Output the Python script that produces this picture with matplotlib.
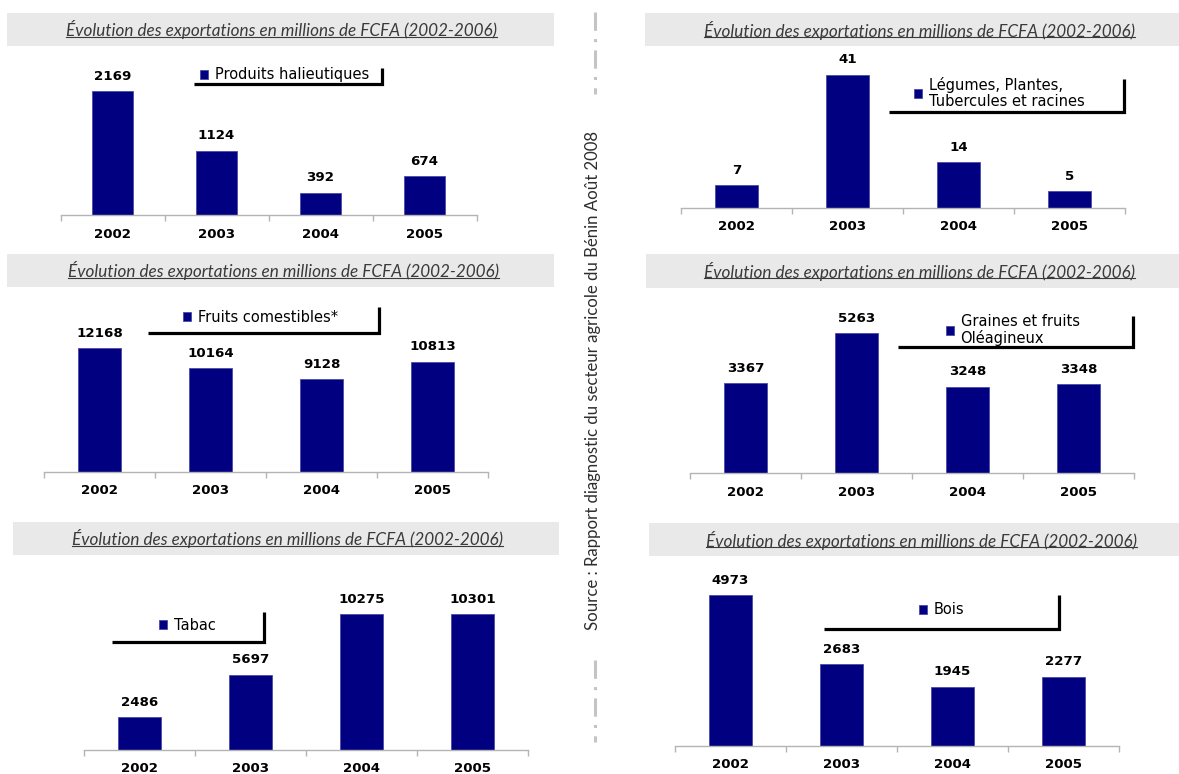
import matplotlib.pyplot as plt
from matplotlib.lines import Line2D
from matplotlib.patches import Rectangle

plt.rcParams['font.family'] = 'DejaVu Sans'

W, H = 1179, 774
NAVY = '#000080'

# Data (millions de FCFA)
years = ['2002', '2003', '2004', '2005']
halieutiques = [2169, 1124, 392, 674]
legumes = [7, 41, 14, 5]
fruits = [12168, 10164, 9128, 10813]
graines = [3367, 5263, 3248, 3348]
tabac = [2486, 5697, 10275, 10301]
bois = [4973, 2683, 1945, 2277]

series_labels = ['Produits halieutiques', 'Légumes, Plantes,\nTubercules et racines',
                 'Fruits comestibles*', 'Graines et fruits\nOléagineux',
                 'Tabac', 'Bois']
title = 'Évolution des exportations en millions de FCFA (2002-2006)'
source = 'Source : Rapport diagnostic du secteur agricole du Bénin Août 2008'


def fx(x):
    return x / W


def fy(y):
    return 1 - y / H


# layout in pixels:
# title bar (x0, x1, y0, y1), title centre x,
# axes (x0, x1, baseline, peak height px), legend anchor (x, y), shadow (x0, x1, ytop, ybot)
layout = [
    dict(data=halieutiques, bar=(7.5, 554, 12.5, 45.5), tcx=281,
         ax=(60.5, 476.5, 215, 124), leg=(200, 75), sh=(194, 382, 68, 84)),
    dict(data=legumes, bar=(645, 1179, 13, 46), tcx=919,
         ax=(681, 1125, 207.7, 133), leg=(914, 93), sh=(889, 1124, 79, 111.7)),
    dict(data=fruits, bar=(7.5, 554, 254, 287), tcx=283,
         ax=(44, 488, 472, 124), leg=(183, 317), sh=(148, 379, 306.7, 332.7)),
    dict(data=graines, bar=(646, 1179, 254, 288), tcx=919,
         ax=(690, 1134, 473, 140), leg=(946, 330), sh=(898, 1133, 316, 347)),
    dict(data=tabac, bar=(13, 559, 522, 555), tcx=287,
         ax=(84, 528, 750, 136), leg=(159, 625), sh=(112, 264, 611.7, 642)),
    dict(data=bois, bar=(649, 1179, 523, 556), tcx=921,
         ax=(675, 1119, 745.7, 150.7), leg=(919, 610), sh=(824, 1059, 594.7, 629)),
]

fig = plt.figure(figsize=(W / 100, H / 100), dpi=100)
fig.patch.set_facecolor('white')

title_texts = []
for i, p in enumerate(layout):
    # grey title band
    bx0, bx1, by0, by1 = p['bar']
    fig.patches.append(Rectangle((fx(bx0), fy(by1)), fx(bx1) - fx(bx0), fy(by0) - fy(by1),
                                 transform=fig.transFigure, facecolor='#e9e9e9',
                                 edgecolor='none', zorder=0))
    t = fig.text(fx(p['tcx']), fy((by0 + by1) / 2 + 0.5), title, ha='center', va='center',
                 family=['Lato', 'DejaVu Sans'], style='italic', color='#3a3a3a', fontsize=11)
    title_texts.append(t)

    # bar chart
    ax0, ax1, base, peak = p['ax']
    top = base - peak - 30
    ax = fig.add_axes([fx(ax0), fy(base), fx(ax1) - fx(ax0), fy(top) - fy(base)])
    ax.patch.set_alpha(0)
    vals = p['data']
    bars = ax.bar(range(len(years)), vals, width=0.39, color=NAVY,
                  edgecolor='#4a4aa8', linewidth=0.6, label=series_labels[i])
    ax.bar_label(bars, labels=[str(v) for v in vals], padding=6,
                 fontsize=9.6, fontweight='bold', color='black')
    ax.set_xlim(-0.5, len(years) - 0.5)
    ax.set_ylim(0, max(vals) * (base - top) / peak)
    for s in ['top', 'left', 'right']:
        ax.spines[s].set_visible(False)
    ax.spines['bottom'].set_color('#b4b4b4')
    ax.spines['bottom'].set_linewidth(1.0)
    ax.set_yticks([])
    ax.set_xticks(range(len(years)))
    ax.set_xticklabels(years, fontsize=9.6, fontweight='bold')
    ax.set_xticks([k - 0.5 for k in range(len(years) + 1)], minor=True)
    ax.tick_params(axis='x', which='major', length=0, pad=9)
    ax.tick_params(axis='x', which='minor', length=4, color='#b4b4b4', width=1.0)

    # legend
    lx, ly = p['leg']
    leg = ax.legend(loc='center left', bbox_to_anchor=(fx(lx), fy(ly)),
                    bbox_transform=fig.transFigure, frameon=False, fontsize=10.5,
                    borderpad=0, borderaxespad=0, handlelength=0.55, handleheight=0.55,
                    handletextpad=0.45)
    for txt in leg.get_texts():
        txt.set_linespacing(1.05)
    sx0, sx1, syt, syb = p['sh']
    fig.lines.append(Line2D([fx(sx0), fx(sx1), fx(sx1)], [fy(syb), fy(syb), fy(syt)],
                            transform=fig.transFigure, color='black', linewidth=2.3,
                            solid_joinstyle='miter', solid_capstyle='butt'))

# vertical source note and dashed separator
src = fig.text(fx(593), fy(380), source, rotation=90, ha='center', va='center',
               family=['Lato', 'DejaVu Sans'], color='#2e2e2e', fontsize=10)
for (ya, yb) in [(12, 94), (660, 742)]:
    fig.lines.append(Line2D([fx(595), fx(595)], [fy(ya), fy(yb)], transform=fig.transFigure,
                            color='#c4c4c4', linewidth=2.2, dashes=(6, 2.7, 1, 2.7)))

# fit text widths to the reference and underline titles
fig.canvas.draw()
r = fig.canvas.get_renderer()
for t in title_texts:
    bb = t.get_window_extent(r)
    t.set_fontsize(t.get_fontsize() * 430 / bb.width)
bb = src.get_window_extent(r)
src.set_fontsize(src.get_fontsize() * 498 / bb.height)
fig.canvas.draw()
for t in title_texts:
    bb = t.get_window_extent(r)
    y = bb.y0 + 2.5
    fig.lines.append(Line2D([bb.x0 / W, bb.x1 / W], [y / H, y / H], transform=fig.transFigure,
                            color='#3a3a3a', linewidth=0.8))

fig.savefig('out.png', dpi=100, facecolor='white')
